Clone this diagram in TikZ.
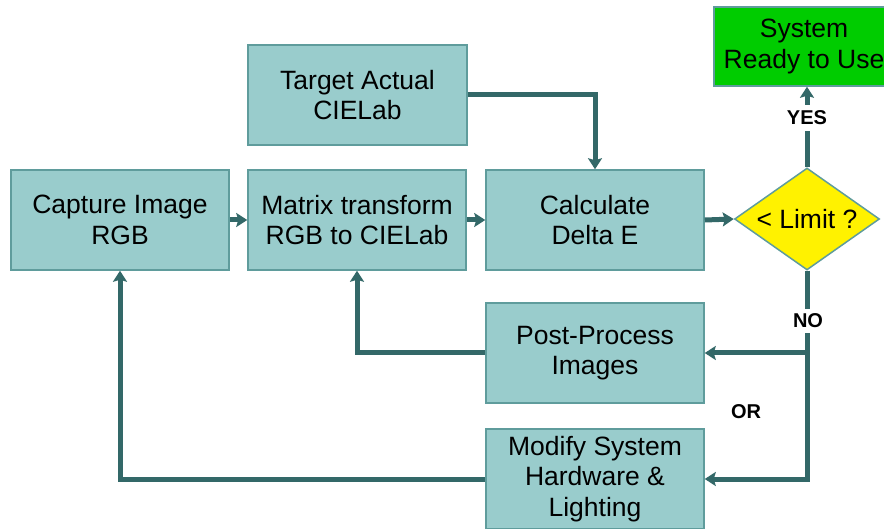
\documentclass[tikz,border=0pt]{standalone}
\usepackage{fontspec}
\setmainfont{Liberation Sans}
\usetikzlibrary{arrows.meta,shapes.geometric}
\definecolor{boxfill}{HTML}{99CCCC}
\definecolor{boxline}{HTML}{5F9C9C}
\definecolor{arrcol}{HTML}{336868}
\definecolor{okgreen}{HTML}{00CC00}
\begin{document}
\begin{tikzpicture}[x=1pt,y=-1pt,
  stepbox/.style={draw=boxline,line width=1.5pt,fill=boxfill,minimum width=218pt,minimum height=100pt,
    align=center,inner sep=0pt,font=\fontsize{26.5}{30.5}\selectfont},
  arr/.style={draw=arrcol,line width=5pt,-{Stealth[width=14pt,length=11pt,inset=2pt]}},
  lbl/.style={fill=white,font=\fontsize{20}{22}\selectfont\bfseries,inner sep=6pt}]
\useasboundingbox (0,0) rectangle (884,529);
\node[stepbox] (cap) at (120,220) {Capture Image\\RGB};
\node[stepbox] (mat) at (357,220) {Matrix transform\\RGB to CIELab};
\node[stepbox] (calc) at (595,220) {Calculate\\Delta E};
\node[stepbox,minimum width=219pt] (tgt) at (357.5,95) {Target Actual\\CIELab};
\node[stepbox] (post) at (595,353) {Post-Process\\Images};
\node[stepbox] (mod) at (595,479) {Modify System\\Hardware \&\\Lighting};
\node[stepbox,fill=okgreen,minimum width=180pt,minimum height=79pt] (sys) at (804,46.5) {System\\Ready to Use};
\node[shape=diamond,draw=boxline,line width=1.5pt,fill=yellow,minimum width=145pt,minimum height=102pt,
  aspect=1.42,inner sep=0pt,font=\fontsize{26.5}{30.5}\selectfont] (lim) at (807,219) {< Limit ?};
\draw[arr] (cap.east) -- (mat.west);
\draw[arr] (mat.east) -- (calc.west);
\draw[arr] (calc.east) -- (lim.west);
\draw[arr] (tgt.east) -| (calc.north);
\draw[arr] (lim.north) -- (lim.north |- sys.south);
\node[lbl] (yes) at (807,118) {YES};
\coordinate (ja) at (lim.south |- post.east);
\coordinate (jb) at (lim.south |- mod.east);
\draw[arr] (lim.south) -- (jb) -- (mod.east);
\draw[arr] (ja) -- (post.east);
\node[lbl,inner sep=5pt] (no) at (808,321) {NO};
\node[font=\fontsize{20}{22}\selectfont\bfseries] (or) at (746,412) {OR};
\draw[arr] (post.west) -| (mat.south);
\draw[arr] (mod.west) -| (cap.south);
\end{tikzpicture}
\end{document}
